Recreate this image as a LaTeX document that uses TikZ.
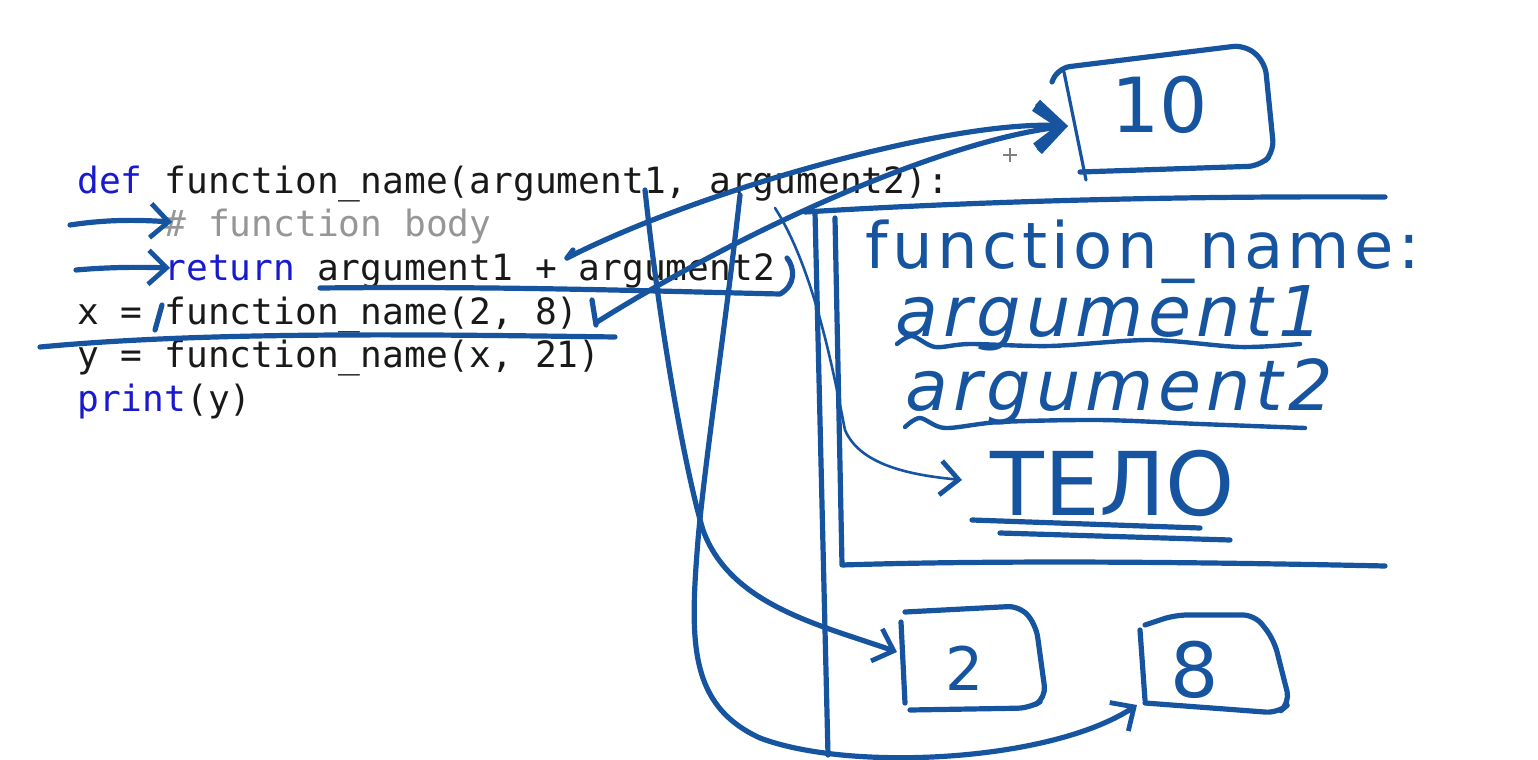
\documentclass[tikz,border=0pt]{standalone}
\usepackage{fontspec}
\usetikzlibrary{arrows.meta,calc,positioning}

\newfontfamily\codefont{DejaVu Sans Mono}
\newfontfamily\handfont{DejaVu Sans}
\newfontfamily\widehand[LetterSpace=7]{DejaVu Sans}

\definecolor{inkblue}{RGB}{22,84,160}
\definecolor{kwblue}{RGB}{25,25,205}
\definecolor{cmtgray}{RGB}{150,150,150}
\definecolor{codeblack}{RGB}{25,25,25}

\tikzset{
  ink/.style={draw=inkblue, line width=2.6pt, line cap=round, line join=round},
  thinink/.style={draw=inkblue, line width=1.3pt, line cap=round, line join=round},
  barb/.style={-{Straight Barb[length=9pt,width=17pt,line width=2.4pt]}},
  bigbarb/.style={-{Straight Barb[length=13pt,width=22pt,line width=3.6pt]}},
  codeline/.style={anchor=base west, inner sep=0pt, text=codeblack,
    font=\codefont\fontsize{18.1}{20}\selectfont},
  hand/.style={anchor=base west, inner sep=0pt, text=inkblue}
}

\begin{document}
\begin{tikzpicture}[x=0.5pt, y=-0.5pt]
\useasboundingbox (0,0) rectangle (1538,760);

\node[codeline] (def) at (77,193) {\textcolor{kwblue}{def} function\_name(argument1, argument2):};
\node[codeline, text=cmtgray] (cmt) at (164.2,236) {\# function body};
\node[codeline] (ret) at (164.2,280) {\textcolor{kwblue}{return} argument1 + argument2};
\node[codeline] (callx) at (77,324) {x = function\_name(2, 8)};
\node[codeline] (cally) at (77,367) {y = function\_name(x, 21)};
\node[codeline] (prt) at (77,411) {\textcolor{kwblue}{print}(y)};

\node[hand, font=\widehand\fontsize{32}{32}\selectfont] (fname) at (865,268) {function\_name:};
\node[hand, font=\widehand\itshape\fontsize{35}{35}\selectfont] (harg1) at (895,336) {argument1};
\node[hand, font=\widehand\itshape\fontsize{35}{35}\selectfont] (harg2) at (905,410) {argument2};
\node[hand, font=\handfont\fontsize{44}{44}\selectfont] (body) at (990,515) {ТЕЛО};
\node[hand, anchor=center, font=\handfont\fontsize{38}{38}\selectfont] (ten) at (1160,105) {10};
\node[hand, anchor=center, font=\handfont\fontsize{30}{30}\selectfont] (two) at (965,668) {2};
\node[hand, anchor=center, font=\handfont\fontsize{38}{38}\selectfont] (eight) at (1195,670) {8};

\coordinate (arg1src) at (645,190);
\coordinate (arg2src) at (740,195);
\coordinate (plussrc) at (567,258);
\coordinate (callsrc) at (597,322);
\coordinate (tenin) at (1068,126);
\coordinate (twoin) at (897,652);
\coordinate (eightin) at (1137,705);
\coordinate (bodysrc) at (775,208);
\coordinate (bodyin) at (962,480);

% pointers on the code
\draw[ink, barb] (70,225) .. controls (110,219) and (140,220) .. (172,222);
\draw[ink, barb] (76,270) .. controls (110,267) and (140,267) .. (170,268);
\draw[ink] (320,288) .. controls (500,286) and (650,291) .. (780,294) .. controls (796,285) and (795,268) .. (787,258);
\draw[ink] (162,305) -- (155,330);
\draw[ink] (592,300) -- (596,325);
\draw[ink] (40,347) .. controls (200,332) and (400,334) .. (615,337);

% results to the box 10
\draw[ink] (plussrc) -- (573,250);
\draw[ink, bigbarb] (plussrc) .. controls (700,190) and (950,120) .. (tenin);
\draw[ink, bigbarb] (callsrc) .. controls (760,220) and (950,140) .. (tenin);

% arguments to the boxes 2 and 8
\draw[ink, barb] (arg1src) .. controls (660,330) and (685,470) .. (703,530)
  .. controls (730,605) and (820,625) .. (twoin);
\draw[ink, barb] (arg2src) .. controls (725,330) and (705,460) .. (698,540)
  .. controls (690,640) and (688,705) .. (760,738)
  .. controls (850,772) and (1050,762) .. (eightin);

% function frame
\draw[ink] (815,212) -- (828,755);
\draw[ink] (805,212) .. controls (1000,200) and (1200,196) .. (1385,197);
\draw[ink] (835,218) -- (842,565) .. controls (1000,560) and (1200,562) .. (1385,566);
\draw[thinink, barb] (bodysrc) .. controls (815,270) and (835,380) .. (845,430)
  .. controls (860,465) and (910,475) .. (bodyin);

% underlines
\draw[ink, line width=2.2pt] plot[smooth] coordinates {(897,344) (912,336) (935,347) (970,344) (1050,346) (1150,340) (1240,347) (1300,344)};
\draw[ink, line width=2.2pt] plot[smooth] coordinates {(905,427) (920,418) (945,428) (1000,422) (1100,420) (1200,424) (1305,428)};
\draw[ink] (972,520) -- (1200,528);
\draw[ink] (1000,533) -- (1230,540);

% value boxes
\draw[ink, rounded corners=6pt] (1052,82) -- (1058,68) -- (1245,45) -- (1265,62) -- (1274,152) -- (1260,166) -- (1080,172);
\draw[ink, line width=1.6pt] (1064,72) -- (1086,180);
\draw[ink, rounded corners=6pt] (905,612) -- (1020,606) -- (1036,625) -- (1046,698) -- (1030,708) -- (910,710);
\draw[ink] (901,622) -- (905,703);
\draw[ink, rounded corners=6pt] (1145,625) -- (1175,615) -- (1255,615) -- (1274,640) -- (1290,703) -- (1278,713) -- (1145,703);
\draw[ink] (1140,630) -- (1145,700);

% cursor
\draw[gray, line width=0.8pt] (1003,155) -- (1017,155) (1010,148) -- (1010,162);
\end{tikzpicture}
\end{document}
